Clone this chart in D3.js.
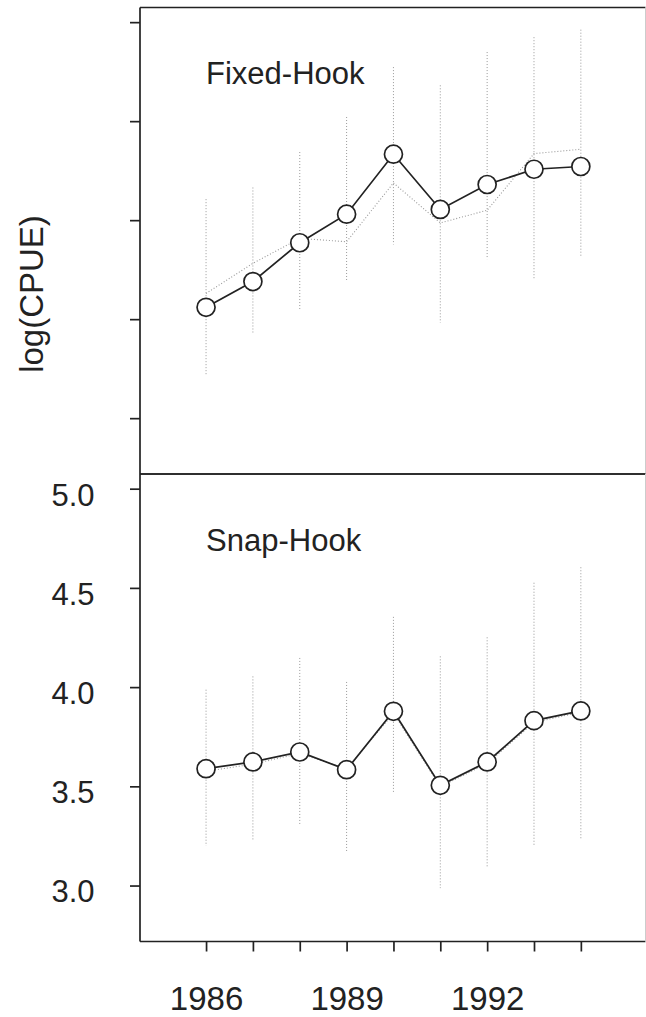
<!DOCTYPE html>
<html>
<head>
<meta charset="utf-8">
<script src="https://cdn.jsdelivr.net/npm/d3@7"></script>
<style>
  html, body { margin: 0; padding: 0; background: #fff; }
  svg { display: block; font-family: "Liberation Sans", Arial, Helvetica, sans-serif; }
</style>
</head>
<body>
<svg id="chart" width="646" height="1017"></svg>
<script>
// Survey years
const years = [1986, 1987, 1988, 1989, 1990, 1991, 1992, 1993, 1994];
const yearLabels = [1986, 1989, 1992];
const yTicks = [3.0, 3.5, 4.0, 4.5, 5.0];

// Fixed-Hook: standardized index, nominal index, and interval bounds
const fixedIndex = [3.56, 3.69, 3.886, 4.03, 4.333, 4.054, 4.18, 4.257, 4.271];
const fixedNominal = [3.63, 3.782, 3.908, 3.891, 4.188, 3.986, 4.05, 4.336, 4.358];
const fixedLower = [3.218, 3.432, 3.546, 3.692, 3.877, 3.482, 3.803, 3.701, 3.815];
const fixedUpper = [4.106, 4.165, 4.344, 4.521, 4.773, 4.681, 4.849, 4.924, 4.962];

// Snap-Hook: standardized index, nominal index, and interval bounds
const snapIndex = [3.589, 3.623, 3.673, 3.584, 3.878, 3.505, 3.623, 3.831, 3.88];
const snapNominal = [3.576, 3.612, 3.666, 3.588, 3.868, 3.498, 3.615, 3.822, 3.874];
const snapLower = [3.2, 3.227, 3.301, 3.167, 3.469, 2.987, 3.091, 3.205, 3.231];
const snapUpper = [3.987, 4.054, 4.147, 4.026, 4.354, 4.155, 4.251, 4.526, 4.604];

const svg = d3.select("#chart");
const left = 140, right = 645.5;
const x = d3.scaleLinear().domain([1984.59, 1995.38]).range([left, right]);
const yDomain = [2.718, 5.074];

const panels = [
  { name: "Fixed-Hook", idx: fixedIndex, nom: fixedNominal, lo: fixedLower, hi: fixedUpper,
    top: 7.5, bottom: 474, labels: false },
  { name: "Snap-Hook", idx: snapIndex, nom: snapNominal, lo: snapLower, hi: snapUpper,
    top: 474, bottom: 941.5, labels: true }
];

const ink = "#222";

panels.forEach(p => {
  const y = d3.scaleLinear().domain(yDomain).range([p.bottom, p.top]);
  const g = svg.append("g");

  // panel frame
  g.append("line").attr("x1", left).attr("x2", right).attr("y1", p.top).attr("y2", p.top)
    .attr("stroke", ink).attr("stroke-width", 1.7);
  g.append("line").attr("x1", left).attr("x2", right).attr("y1", p.bottom).attr("y2", p.bottom)
    .attr("stroke", ink).attr("stroke-width", 1.7);
  g.append("line").attr("x1", left).attr("x2", left).attr("y1", p.top).attr("y2", p.bottom)
    .attr("stroke", ink).attr("stroke-width", 1.7);
  g.append("line").attr("x1", right).attr("x2", right).attr("y1", p.top).attr("y2", p.bottom)
    .attr("stroke", "#ccc").attr("stroke-width", 1);

  // y axis ticks
  const yAxis = d3.axisLeft(y).tickValues(yTicks).tickSize(10).tickSizeOuter(0)
    .tickFormat(p.labels ? d3.format(".1f") : () => "");
  const ya = g.append("g").attr("transform", `translate(${left},0)`).call(yAxis);
  ya.select(".domain").remove();
  ya.selectAll(".tick line").attr("stroke", ink).attr("stroke-width", 1.7);
  ya.selectAll(".tick text")
    .attr("x", -45.5).attr("dy", null).attr("y", 16.4)
    .attr("font-size", 31).attr("fill", ink)
    .attr("font-family", '"Liberation Sans", Arial, sans-serif');

  // interval bars (dotted)
  g.selectAll(".ci").data(years).join("line")
    .attr("x1", d => x(d)).attr("x2", d => x(d))
    .attr("y1", (d, i) => y(p.hi[i])).attr("y2", (d, i) => y(p.lo[i]))
    .attr("stroke", "#999").attr("stroke-width", 1).attr("stroke-dasharray", "1,2");

  // nominal series (dotted)
  g.append("path").datum(years)
    .attr("d", d3.line().x(d => x(d)).y((d, i) => y(p.nom[i])))
    .attr("fill", "none").attr("stroke", "#999").attr("stroke-width", 1.1)
    .attr("stroke-dasharray", "1,2");

  // standardized series
  g.append("path").datum(years)
    .attr("d", d3.line().x(d => x(d)).y((d, i) => y(p.idx[i])))
    .attr("fill", "none").attr("stroke", ink).attr("stroke-width", 1.7);

  g.selectAll(".pt").data(years).join("circle")
    .attr("cx", d => x(d)).attr("cy", (d, i) => y(p.idx[i]))
    .attr("r", 9).attr("fill", "#fff").attr("stroke", ink).attr("stroke-width", 1.7);

  // panel title
  g.append("text").attr("x", x(1986)).attr("y", p.top + (p.labels ? 77 : 76.5))
    .attr("font-size", 31).attr("fill", ink).text(p.name);
});

// x axis at the bottom
const xAxis = d3.axisBottom(x).tickValues(years).tickSize(10).tickSizeOuter(0)
  .tickFormat(d => yearLabels.includes(d) ? String(d) : "");
const xa = svg.append("g").attr("transform", "translate(0,941.5)").call(xAxis);
xa.select(".domain").remove();
xa.selectAll(".tick line").attr("stroke", ink).attr("stroke-width", 1.7);
xa.selectAll(".tick text").attr("dy", null).attr("y", 68.5)
  .attr("font-size", 33).attr("fill", ink)
  .attr("font-family", '"Liberation Sans", Arial, sans-serif');

// y axis title
svg.append("text")
  .attr("transform", "translate(43,294) rotate(-90)")
  .attr("text-anchor", "middle")
  .attr("font-size", 33).attr("fill", ink)
  .text("log(CPUE)");
</script>
</body>
</html>
